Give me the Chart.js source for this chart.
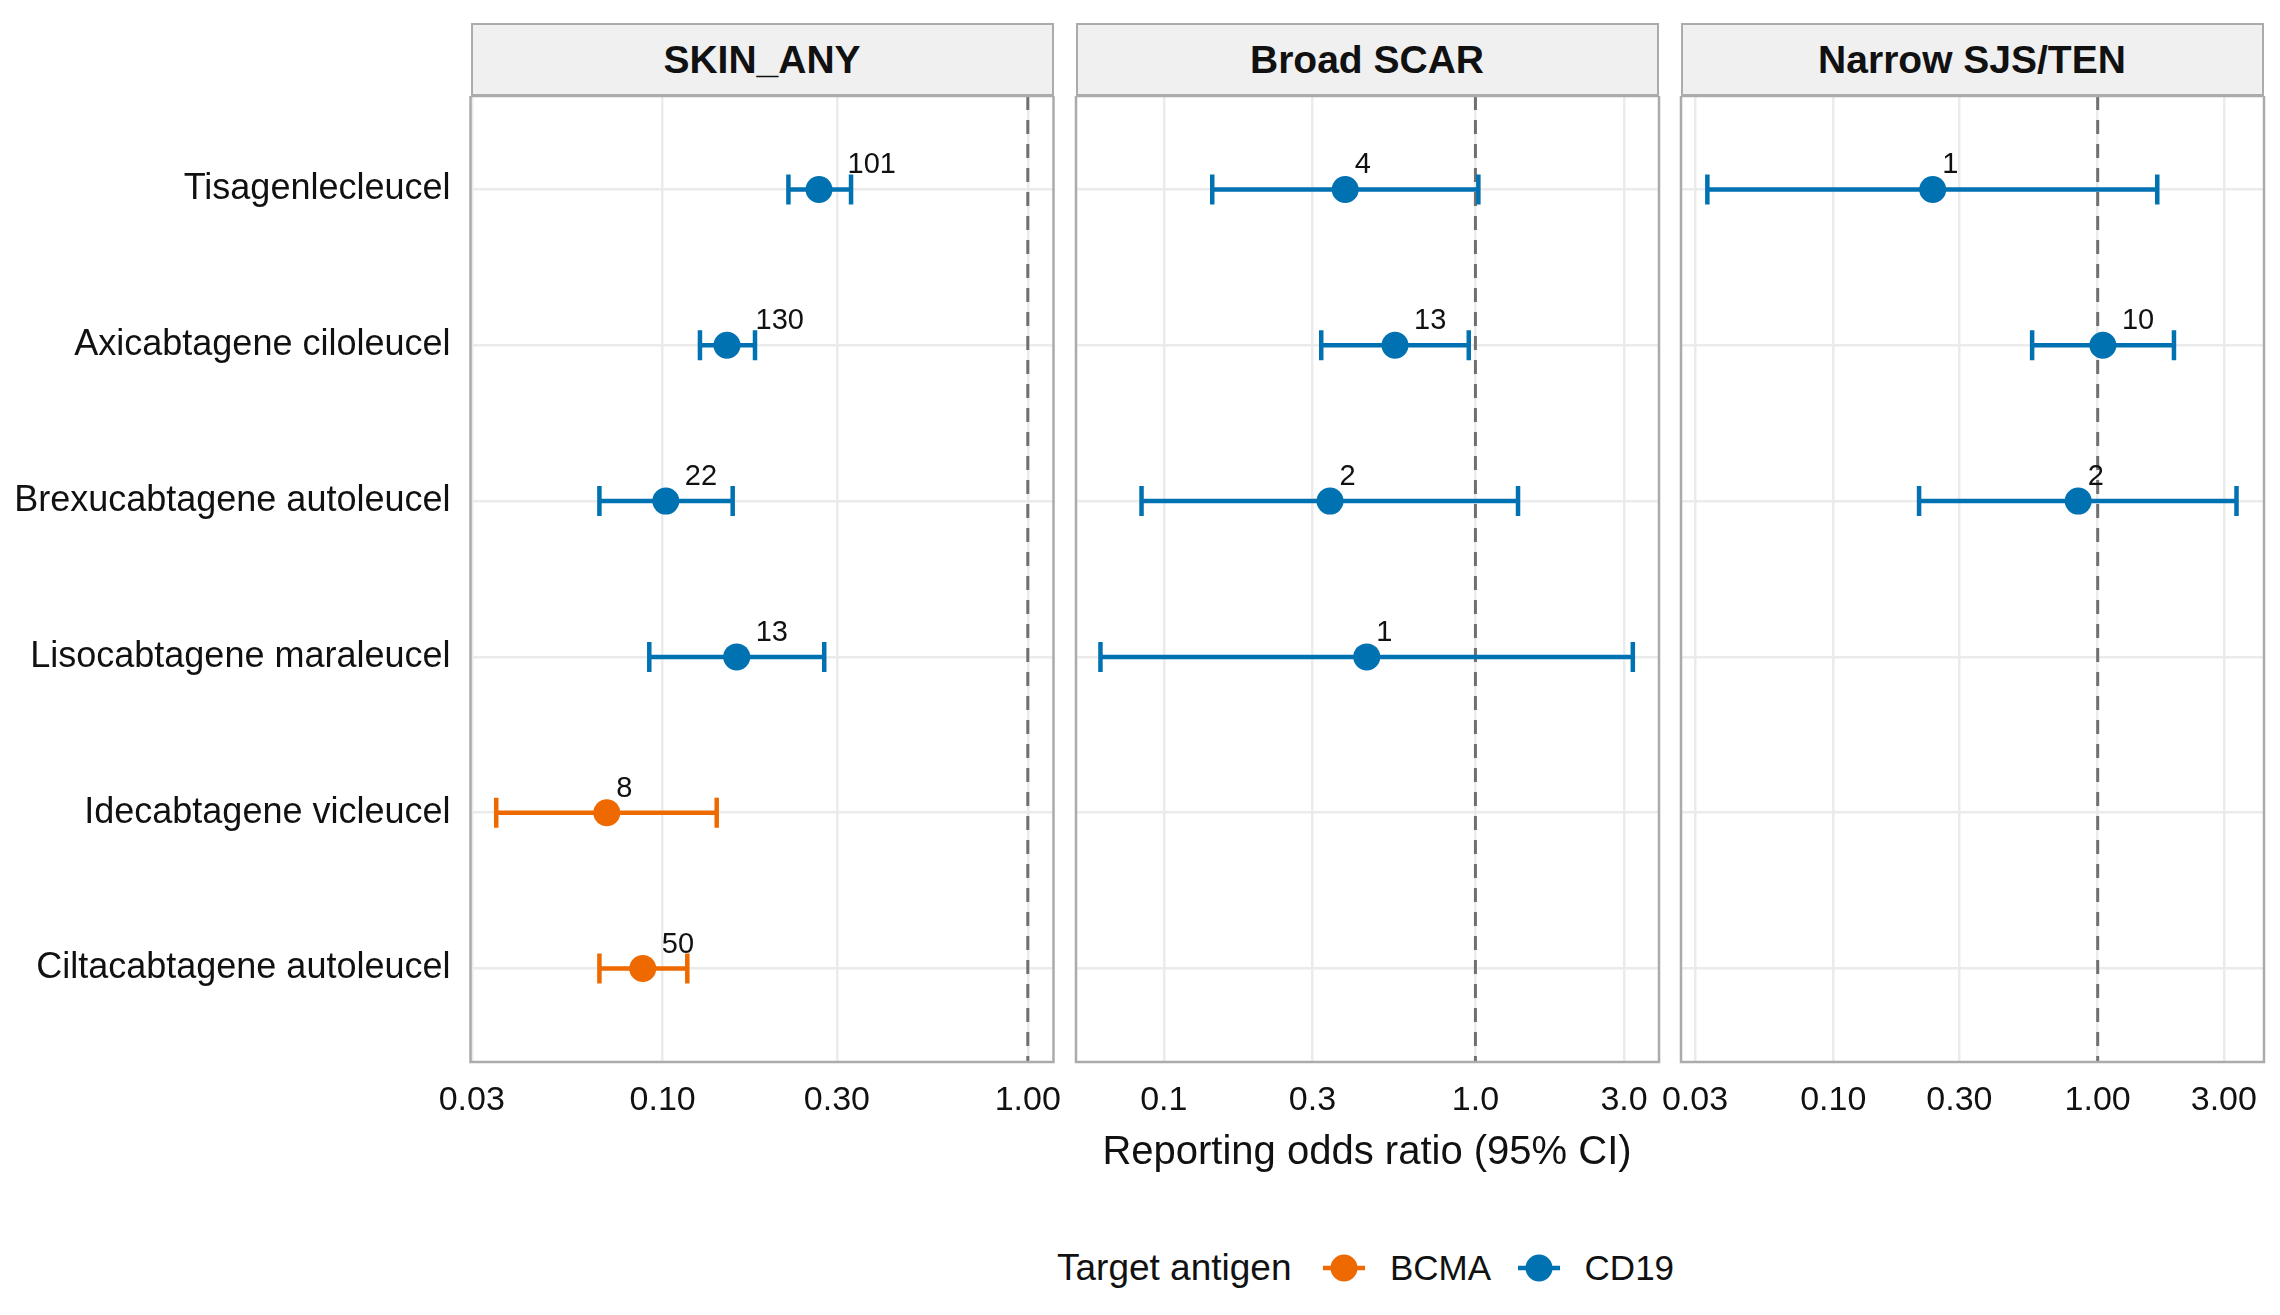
<!DOCTYPE html>
<html>
<head>
<meta charset="utf-8">
<script src="https://cdn.jsdelivr.net/npm/chart.js@4.4.1/dist/chart.umd.min.js"></script>
<style>
  body { margin: 0; background: #fff; width: 2280px; height: 1315px; position: relative; overflow: hidden;
         font-family: "Liberation Sans", Arial, Helvetica, sans-serif; color: #111; }
  canvas { position: absolute; }
  .strip { position: absolute; top: 23px; height: 73px; width: 583px; box-sizing: border-box;
           background: #F0F0F0; border: 2.5px solid #ABABAB; font-weight: bold; font-size: 39px;
           display: flex; align-items: center; justify-content: center; }
  .txt { position: absolute; white-space: nowrap; }
</style>
</head>
<body>
<div id="root"></div>
<script>
// data
const drugs = ['Tisagenlecleucel', 'Axicabtagene ciloleucel', 'Brexucabtagene autoleucel',
               'Lisocabtagene maraleucel', 'Idecabtagene vicleucel', 'Ciltacabtagene autoleucel'];
const antigen = ['CD19', 'CD19', 'CD19', 'CD19', 'BCMA', 'BCMA'];
const legendKeys = ['BCMA', 'CD19'];
const colours = { BCMA: '#EE6A00', CD19: '#0072B2' };

// SKIN_ANY
const skinOR = [0.268, 0.150, 0.102, 0.1595, 0.0703, 0.0882];
const skinLo = [0.221, 0.1265, 0.0671, 0.0919, 0.035, 0.0671];
const skinHi = [0.328, 0.179, 0.1555, 0.277, 0.1406, 0.1168];
const skinN  = [101, 130, 22, 13, 8, 50];
// Broad SCAR
const scarOR = [0.382, 0.552, 0.3415, 0.448, null, null];
const scarLo = [0.143, 0.320, 0.0848, 0.0626, null, null];
const scarHi = [1.022, 0.952, 1.37, 3.20, null, null];
const scarN  = [4, 13, 2, 1, null, null];
// Narrow SJS/TEN
const sjsOR = [0.2377, 1.046, 0.844, null, null, null];
const sjsLo = [0.0334, 0.565, 0.2111, null, null, null];
const sjsHi = [1.68, 1.943, 3.35, null, null, null];
const sjsN  = [1, 10, 2, null, null, null];

// tick labels
const skinTicks = [0.03, 0.1, 0.3, 1];
const skinTickLabels = ['0.03', '0.10', '0.30', '1.00'];
const scarTicks = [0.1, 0.3, 1, 3];
const scarTickLabels = ['0.1', '0.3', '1.0', '3.0'];
const sjsTicks = [0.03, 0.1, 0.3, 1, 3];
const sjsTickLabels = ['0.03', '0.10', '0.30', '1.00', '3.00'];

const FONT = '"Liberation Sans", Arial, Helvetica, sans-serif';
const PANEL_W = 583, PLOT_TOP = 96, PLOT_H = 966, AXIS_H = 80;

const panels = [
  { title: 'SKIN_ANY', or: skinOR, lo: skinLo, hi: skinHi, n: skinN, min: 0.02976, max: 1.176,
    ticks: skinTicks, labels: skinTickLabels, left: 470.5, showY: true },
  { title: 'Broad SCAR', or: scarOR, lo: scarLo, hi: scarHi, n: scarN, min: 0.05225, max: 3.883,
    ticks: scarTicks, labels: scarTickLabels, left: 1075.5, showY: false },
  { title: 'Narrow SJS/TEN', or: sjsOR, lo: sjsLo, hi: sjsHi, n: sjsN, min: 0.02655, max: 4.256,
    ticks: sjsTicks, labels: sjsTickLabels, left: 1680.5, showY: false }
];

const root = document.getElementById('root');

function addText(txt, css) {
  const d = document.createElement('div');
  d.className = 'txt';
  d.textContent = txt;
  Object.assign(d.style, css);
  root.appendChild(d);
  return d;
}

function makePanel(p) {
  // strip
  const s = document.createElement('div');
  s.className = 'strip';
  s.style.left = p.left + 'px';
  s.textContent = p.title;
  root.appendChild(s);

  const padL = p.showY ? 0 : 40, padR = 40;
  const cv = document.createElement('canvas');
  cv.width = Math.ceil((p.showY ? p.left : padL) + PANEL_W + padR);
  cv.height = PLOT_H + AXIS_H;
  cv.style.left = (p.showY ? 0 : p.left - padL) + 'px';
  cv.style.top = PLOT_TOP + 'px';
  root.appendChild(cv);
  const rightPad = cv.width - (p.showY ? p.left : padL) - PANEL_W;

  const idx = p.or.map((v, i) => i).filter(i => p.or[i] != null);

  const decor = {
    id: 'decor',
    beforeDatasetsDraw(chart) {
      const { ctx, chartArea: a, scales: { x, y } } = chart;
      ctx.save();
      // reference line at ROR = 1
      const x1 = x.getPixelForValue(1);
      ctx.strokeStyle = '#707070';
      ctx.lineWidth = 3;
      ctx.setLineDash([14, 10]);
      ctx.beginPath(); ctx.moveTo(x1, a.top); ctx.lineTo(x1, a.bottom); ctx.stroke();
      ctx.setLineDash([]);
      // confidence intervals
      ctx.lineWidth = 4.5;
      idx.forEach(i => {
        const xl = x.getPixelForValue(p.lo[i]), xh = x.getPixelForValue(p.hi[i]);
        const yy = y.getPixelForValue(i);
        ctx.strokeStyle = colours[antigen[i]];
        ctx.beginPath();
        ctx.moveTo(xl, yy); ctx.lineTo(xh, yy);
        ctx.moveTo(xl, yy - 15); ctx.lineTo(xl, yy + 15);
        ctx.moveTo(xh, yy - 15); ctx.lineTo(xh, yy + 15);
        ctx.stroke();
      });
      ctx.restore();
    },
    afterDatasetsDraw(chart) {
      const { ctx, scales: { x, y } } = chart;
      ctx.save();
      ctx.font = '29px ' + FONT;
      ctx.fillStyle = '#111';
      ctx.textAlign = 'left';
      ctx.textBaseline = 'alphabetic';
      idx.forEach(i => {
        const t = String(p.n[i]);
        const w = ctx.measureText(t).width;
        ctx.fillText(t, x.getPixelForValue(p.or[i]) + 0.59 * w, y.getPixelForValue(i) - 16);
      });
      ctx.restore();
    },
    afterDraw(chart) {
      const { ctx, chartArea: a } = chart;
      ctx.save();
      ctx.strokeStyle = '#ABABAB';
      ctx.lineWidth = 2.5;
      ctx.strokeRect(a.left, a.top, a.right - a.left, a.bottom - a.top);
      ctx.restore();
    }
  };

  const chart = new Chart(cv.getContext('2d'), {
    type: 'scatter',
    data: {
      datasets: [{
        data: idx.map(i => ({ x: p.or[i], y: i })),
        pointBackgroundColor: idx.map(i => colours[antigen[i]]),
        pointBorderWidth: 0,
        pointRadius: 13.5,
        pointHoverRadius: 13.5
      }]
    },
    options: {
      responsive: false,
      animation: false,
      events: [],
      layout: { autoPadding: false, padding: { left: padL, right: rightPad, top: 0, bottom: 0 } },
      plugins: { legend: { display: false }, tooltip: { enabled: false } },
      scales: {
        x: {
          type: 'logarithmic', min: p.min, max: p.max,
          afterBuildTicks: sc => { sc.ticks = p.ticks.map(v => ({ value: v })); },
          ticks: { callback: (v, i) => p.labels[i], font: { size: 34, family: FONT }, color: '#111',
                   padding: 18, autoSkip: false, maxRotation: 0 },
          grid: { color: '#EBEBEB', lineWidth: 2.5, drawTicks: false },
          border: { display: false },
          afterFit: sc => { sc.height = AXIS_H; sc.paddingLeft = 0; sc.paddingRight = 0; }
        },
        y: {
          type: 'linear', min: -0.6, max: 5.6, reverse: true,
          afterBuildTicks: sc => { sc.ticks = drugs.map((d, i) => ({ value: i })); },
          ticks: { display: p.showY, callback: v => drugs[v], font: { size: 36, family: FONT },
                   color: '#111', padding: 20 },
          grid: { color: '#EBEBEB', lineWidth: 2.5, drawTicks: false },
          border: { display: false },
          afterFit: sc => { sc.width = p.showY ? p.left : 0; sc.paddingTop = 0; sc.paddingBottom = 0; }
        }
      }
    },
    plugins: [decor]
  });

  // pin the plot area onto the panel frame whatever the layout decided
  const a = chart.chartArea;
  cv.style.top = (PLOT_TOP - a.top) + 'px';
  cv.style.left = (p.left - a.left) + 'px';
}

panels.forEach(makePanel);

// shared axis title
addText('Reporting odds ratio (95% CI)', { left: '1075.5px', width: '583px', textAlign: 'center',
  top: '1125px', height: '50px', lineHeight: '50px', fontSize: '40px' });

// legend
addText('Target antigen', { left: '1057px', top: '1243px', height: '50px', lineHeight: '50px', fontSize: '37px' });
const keyX = [1343.6, 1538.7];
const keyTextX = [1390, 1584.6];
legendKeys.forEach((k, j) => {
  const c = document.createElement('canvas');
  c.width = 50; c.height = 36;
  c.style.left = (keyX[j] - 25) + 'px';
  c.style.top = (1268 - 18) + 'px';
  const g = c.getContext('2d');
  g.strokeStyle = colours[k]; g.lineWidth = 4.5;
  g.beginPath(); g.moveTo(4, 18); g.lineTo(46, 18); g.stroke();
  g.fillStyle = colours[k];
  g.beginPath(); g.arc(25, 18, 13.5, 0, Math.PI * 2); g.fill();
  root.appendChild(c);
  addText(k, { left: keyTextX[j] + 'px', top: '1243px', height: '50px', lineHeight: '50px', fontSize: '35px' });
});
</script>
</body>
</html>
